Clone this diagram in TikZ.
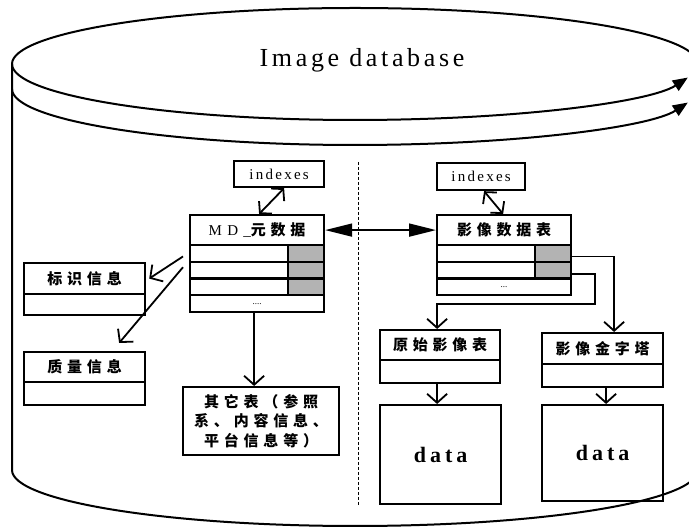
\documentclass[tikz,border=0pt]{standalone}
\usepackage{fontspec}
\setmainfont{Liberation Serif}
\newfontfamily\cjk[LetterSpace=32]{Noto Sans CJK SC}
\newfontfamily\tmw[LetterSpace=35]{Liberation Serif}
\newfontfamily\tmi[LetterSpace=15]{Liberation Serif}
\newfontfamily\tmt[LetterSpace=14]{Liberation Serif}
\newfontfamily\tmd[LetterSpace=18]{Liberation Serif}
\usetikzlibrary{arrows.meta}
\definecolor{cellgray}{RGB}{179,179,179}
\newcommand\hdsize{\fontsize{15}{18}\selectfont}
\newcommand\zh{\cjk\bfseries}
\begin{document}
\begin{tikzpicture}[x=1pt,y=1pt,
  tbl/.style={draw, line width=2.2pt, inner sep=0pt, anchor=north west, font=\hdsize},
  cyl/.style={line width=2pt},
  conn/.style={line width=1.8pt},
  barb/.style={conn, -{Straight Barb[length=9pt,width=20pt]}},
  dbarb/.style={conn, {Straight Barb[length=8pt,width=18pt]}-{Straight Barb[length=8pt,width=18pt]}},
  dtri/.style={conn, {Triangle[length=27pt,width=13pt]}-{Triangle[length=27pt,width=13pt]}},
  cyltip/.style={cyl, -{Triangle[length=15pt,width=12pt]}}
]
\useasboundingbox (0,0) rectangle (689,527);
\clip (0,0) rectangle (689,527);
% cylinder
\draw[cyl] (12,463) arc[start angle=180,end angle=0,x radius=343,y radius=56];
\draw[cyltip] (12,463) arc[start angle=180,end angle=346,x radius=343,y radius=56];
\draw[cyltip] (12,438) arc[start angle=180,end angle=346,x radius=343,y radius=56];
\draw[cyl] (12,463) -- (12,57) arc[start angle=180,end angle=360,x radius=343,y radius=56];
\node (title) at (362,467) {\tmt\fontsize{26}{30}\selectfont Image database};
% divider
\coordinate (dvT) at (358,365);
\coordinate (dvB) at (358,22);
\draw[line width=0.9pt, dash pattern=on 3pt off 2pt] (dvT) -- (dvB);
% left side
\node[tbl, minimum width=90pt, minimum height=26pt] (idxL) at (233,367) {\tmi\fontsize{15}{17}\selectfont indexes};
\node[tbl, minimum width=134pt, minimum height=30pt] (mdh) at (189,313) {{\tmw MD\_}{\zh 元数据}};
\node[tbl, minimum width=134pt, minimum height=16.75pt] (mdr1) at (189,283) {};
\node[tbl, minimum width=36pt, minimum height=16.75pt, fill=cellgray] (mdg1) at (287,283) {};
\node[tbl, minimum width=134pt, minimum height=16.75pt] (mdr2) at (189,266.25) {};
\node[tbl, minimum width=36pt, minimum height=16.75pt, fill=cellgray] (mdg2) at (287,266.25) {};
\node[tbl, minimum width=134pt, minimum height=16.75pt] (mdr3) at (189,249.5) {};
\node[tbl, minimum width=36pt, minimum height=16.75pt, fill=cellgray] (mdg3) at (287,249.5) {};
\node[tbl, minimum width=134pt, minimum height=16.75pt, font=\fontsize{9}{10}\selectfont] (mdd) at (189,232.75) {....};

\node[tbl, minimum width=121pt, minimum height=31pt] (bsh) at (23,265) {\zh 标识信息};
\node[tbl, minimum width=121pt, minimum height=21pt] (bsb) at (23,234) {};
\node[tbl, minimum width=121pt, minimum height=30pt] (zlh) at (23,176) {\zh 质量信息};
\node[tbl, minimum width=121pt, minimum height=23pt] (zlb) at (23,146) {};
\node[tbl, minimum width=156pt, minimum height=68pt, align=center, font=\fontsize{15}{19.5}\selectfont] (qt) at (182,141) {\zh 其它表（参照\\\zh 系、内容信息、\\\zh 平台信息等）};

% right side
\node[tbl, minimum width=88pt, minimum height=27pt] (idxR) at (436,365) {\tmi\fontsize{15}{17}\selectfont indexes};
\node[tbl, minimum width=134pt, minimum height=30pt] (yxh) at (436,313) {\zh 影像数据表};
\node[tbl, minimum width=134pt, minimum height=16.67pt] (yxr1) at (436,283) {};
\node[tbl, minimum width=36pt, minimum height=16.67pt, fill=cellgray] (yxg1) at (534,283) {};
\node[tbl, minimum width=134pt, minimum height=16.67pt] (yxr2) at (436,266.33) {};
\node[tbl, minimum width=36pt, minimum height=16.67pt, fill=cellgray] (yxg2) at (534,266.33) {};
\node[tbl, minimum width=134pt, minimum height=16.67pt, font=\fontsize{9}{10}\selectfont] (yxd) at (436,249.67) {...};

\node[tbl, minimum width=120pt, minimum height=30pt] (ysh) at (379,198) {\zh 原始影像表};
\node[tbl, minimum width=120pt, minimum height=23pt] (ysb) at (379,168) {};
\node[tbl, minimum width=121pt, minimum height=31pt] (yjh) at (541,195) {\zh 影像金字塔};
\node[tbl, minimum width=121pt, minimum height=23pt] (yjb) at (541,164) {};
\node[tbl, minimum width=121pt, minimum height=99pt, font=\tmd\bfseries\fontsize{22}{26}\selectfont] (d1) at (379,123) {data};
\node[tbl, minimum width=121pt, minimum height=96pt, font=\tmd\bfseries\fontsize{22}{26}\selectfont] (d2) at (541,123) {data};

% connectors
\draw[dbarb] ([xshift=5pt]idxL.south) -- ([xshift=2pt]mdh.north);
\draw[dbarb] ([xshift=3pt]idxR.south) -- ([xshift=-1pt]yxh.north);
\draw[dtri] (mdh.east) -- (yxh.west);
\draw[barb] ([xshift=-6pt,yshift=-3pt]mdr1.west) -- ([xshift=3pt]bsh.east);
\draw[barb] ([xshift=-6pt,yshift=3pt]mdr2.west) -- ([xshift=34.5pt,yshift=8pt]zlh.north);
\draw[barb] ([xshift=-3pt]mdd.south) -- ([xshift=-3pt]mdd.south |- qt.north);
\draw[barb] ([yshift=-3pt]yxg1.east) -| ([xshift=11.5pt]yjh.north);
\coordinate (bend) at (595,223);
\draw[barb] ([yshift=-4pt]yxg2.east) -| (bend) -| ([xshift=-3pt]ysh.north);
\draw[barb] ([xshift=-3pt]ysb.south) -- ([xshift=-3pt]ysb.south |- d1.north);
\draw[barb] ([xshift=3.5pt]yjb.south) -- ([xshift=3.5pt]yjb.south |- d2.north);
\end{tikzpicture}
\end{document}
